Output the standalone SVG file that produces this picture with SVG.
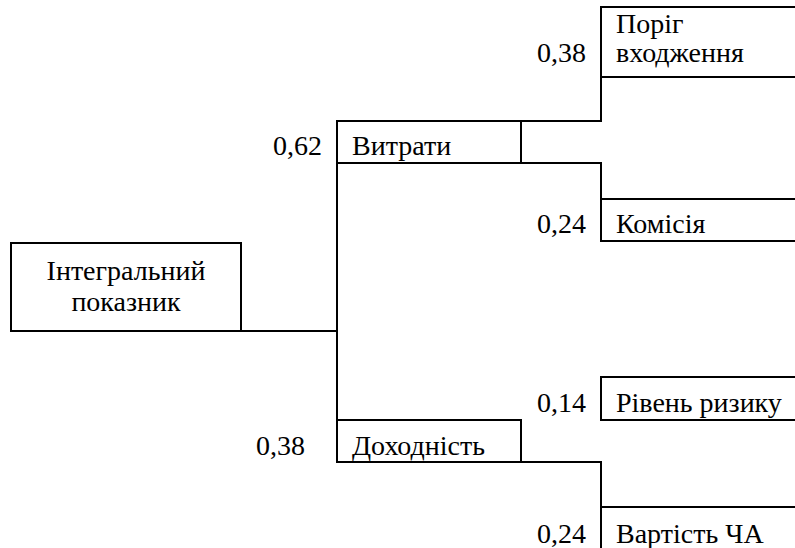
<svg xmlns="http://www.w3.org/2000/svg" width="795" height="548" viewBox="0 0 795 548">
<style>
.ln{fill:none;stroke:#000;stroke-width:2;stroke-linecap:square}
text{font-family:'Liberation Serif','Times New Roman',serif;font-size:28px;fill:#000}
.w{text-anchor:end}
.c{text-anchor:middle}
</style>
<rect width="795" height="548" fill="#fff"/>
<g id="connectors" class="ln">
<path d="M241,331 H337"/>
<path d="M337,121 V462"/>
<path d="M521,121 H601 V77"/>
<path d="M521,163 H601 V199"/>
<path d="M601,420 V377"/>
<path d="M521,462 H601 V507"/>
</g>
<g id="node-integral">
<rect class="ln" x="11" y="243" width="230" height="88"/>
<text class="c" x="126" y="280">Інтегральний</text>
<text class="c" x="126" y="311">показник</text>
</g>
<g id="node-vytraty">
<path class="ln" d="M337,121 H521 V163 H337"/>
<text class="w" x="322" y="155">0,62</text>
<text x="352" y="155">Витрати</text>
</g>
<g id="node-porig">
<path class="ln" d="M795,7 H601 V77 H795"/>
<text class="w" x="586" y="62">0,38</text>
<text x="616" y="33">Поріг</text>
<text x="616" y="62">входження</text>
</g>
<g id="node-komisiya">
<path class="ln" d="M795,199 H601 V241 H795"/>
<text class="w" x="586" y="233">0,24</text>
<text x="616" y="233">Комісія</text>
</g>
<g id="node-dokhidnist">
<path class="ln" d="M337,420 H521 V462 H337"/>
<text class="w" x="305" y="455">0,38</text>
<text x="352" y="455">Доходність</text>
</g>
<g id="node-riven">
<path class="ln" d="M795,377 H601 V420 H795"/>
<text class="w" x="586" y="412">0,14</text>
<text x="616" y="412">Рівень ризику</text>
</g>
<g id="node-vartist">
<path class="ln" d="M795,507 H601 V548"/>
<text class="w" x="586" y="543">0,24</text>
<text x="616" y="543">Вартість ЧА</text>
</g>
</svg>
